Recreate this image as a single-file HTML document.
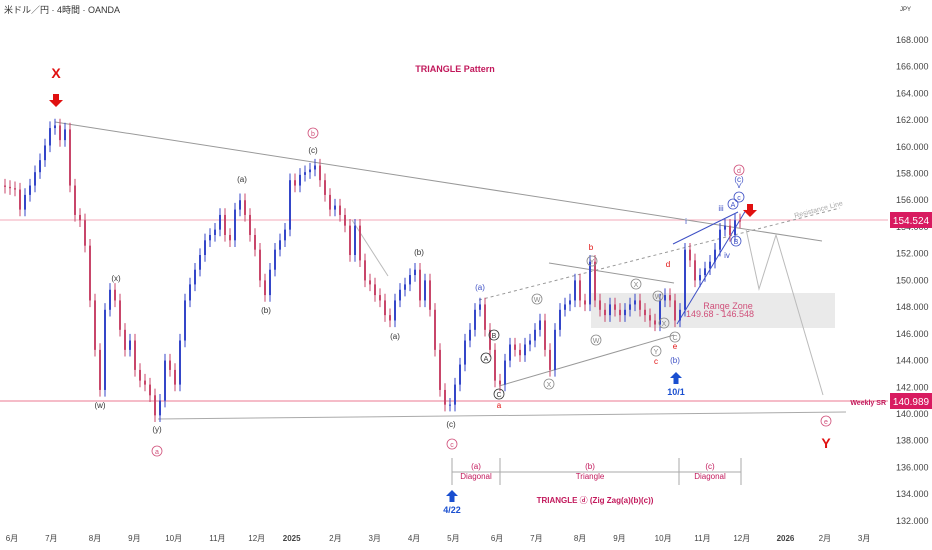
<!DOCTYPE html>
<html><head><meta charset="utf-8">
<style>
body{margin:0;background:#fff;font-family:"Liberation Sans","Noto Sans CJK JP",sans-serif;}
#wrap{position:relative;width:932px;height:550px;overflow:hidden;}
svg text{font-family:"Liberation Sans","Noto Sans CJK JP",sans-serif;}
</style></head>
<body>
<div id="wrap">
<svg id="chart" width="932" height="550" xmlns="http://www.w3.org/2000/svg">
<text x="4" y="13" font-size="9" fill="#333">米ドル／円 · 4時間 · OANDA</text>
<text x="900" y="11" font-size="6" fill="#333">JPY</text>
<rect x="591" y="293" width="244" height="35" fill="#dcdcdc" opacity="0.6"/>
<text x="728" y="309" font-size="9" fill="#d0507a" text-anchor="middle">Range Zone</text>
<text x="720" y="317" font-size="9" fill="#d0507a" text-anchor="middle">149.68 - 146.548</text>
<line x1="0" y1="220" x2="888" y2="220" stroke="#f3a8b8" stroke-width="1"/>
<line x1="0" y1="401" x2="888" y2="401" stroke="#f5bcc8" stroke-width="2"/>
<line x1="55" y1="122" x2="822" y2="241" stroke="#999" stroke-width="1"/>
<line x1="158" y1="419" x2="846" y2="412" stroke="#aaa" stroke-width="1"/>
<line x1="549" y1="263" x2="674" y2="283" stroke="#999"/>
<line x1="499" y1="386" x2="674" y2="335" stroke="#999"/>
<line x1="352" y1="220" x2="388" y2="276" stroke="#bbb"/>
<line x1="479" y1="300" x2="840" y2="208" stroke="#999" stroke-dasharray="3,3"/>
<text x="795" y="218" font-size="7" fill="#aaa" transform="rotate(-15 795 218)">Resistance Line</text>
<line x1="677" y1="324" x2="746" y2="210" stroke="#3f51c5"/>
<line x1="673" y1="244" x2="738" y2="212" stroke="#3f51c5"/>
<polyline points="746,229 759,289 776,235 823,395" fill="none" stroke="#bbb"/>
<g id="candles"></g>
<g id="ylabels"></g>
<g id="xlabels"></g>
<rect x="890" y="212" width="42" height="16" fill="#d81b60"/>
<text x="911" y="224" font-size="10" fill="#fff" text-anchor="middle">154.524</text>
<rect x="890" y="393" width="42" height="16" fill="#d81b60"/>
<text x="911" y="405" font-size="10" fill="#fff" text-anchor="middle">140.989</text>
<text x="886" y="405" font-size="7" font-weight="bold" fill="#c2185b" text-anchor="end">Weekly SR</text>
<text x="455" y="72" font-size="9" font-weight="bold" fill="#c2185b" text-anchor="middle">TRIANGLE  Pattern</text>
<text x="56" y="78" font-size="14" font-weight="bold" fill="#e01010" text-anchor="middle">X</text>
<path d="M53,94 h6 v6 h4 l-7,7 l-7,-7 h4z" fill="#e01010"/>
<path d="M747,204 h6 v6 h4 l-7,7 l-7,-7 h4z" fill="#e01010"/>
<text x="826" y="448" font-size="14" font-weight="bold" fill="#e01010" text-anchor="middle">Y</text>
<path d="M452,490 l6,6 h-3.5 v6 h-5 v-6 h-3.5z" fill="#1a4fd0"/>
<text x="452" y="513" font-size="9" font-weight="bold" fill="#1a4fd0" text-anchor="middle">4/22</text>
<path d="M676,372 l6,6 h-3.5 v6 h-5 v-6 h-3.5z" fill="#1a4fd0"/>
<text x="676" y="395" font-size="9" font-weight="bold" fill="#1a4fd0" text-anchor="middle">10/1</text>
<g stroke="#aaa">
<line x1="452" y1="458" x2="452" y2="485"/><line x1="500" y1="458" x2="500" y2="485"/>
<line x1="679" y1="458" x2="679" y2="485"/><line x1="741" y1="458" x2="741" y2="485"/>
<line x1="452" y1="472" x2="741" y2="472"/>
</g>
<g font-size="8" fill="#c2185b" text-anchor="middle">
<text x="476" y="469">(a)</text><text x="476" y="479">Diagonal</text>
<text x="590" y="469">(b)</text><text x="590" y="479">Triangle</text>
<text x="710" y="469">(c)</text><text x="710" y="479">Diagonal</text>
</g>
<text x="595" y="503" font-size="8" font-weight="bold" fill="#c2185b" text-anchor="middle">TRIANGLE ⓓ (Zig Zag(a)(b)(c))</text>
<g id="waves"></g>
</svg>
</div>
<script>
const closes=[157.1,157.0,156.9,156.8,155.3,156.4,157.1,158.1,159.0,160.1,161.4,161.6,160.5,161.3,157.1,154.9,154.5,152.6,148.5,144.8,141.8,147.8,149.3,148.5,146.3,144.8,145.5,143.3,142.5,142.2,141.4,139.9,141.0,144.0,143.3,142.2,145.5,148.5,149.7,150.8,151.9,153.0,153.4,153.8,154.9,153.4,153.0,155.3,156.0,154.9,153.4,152.3,150.0,148.9,150.8,152.3,153.0,153.8,157.5,157.1,157.9,158.1,158.3,158.6,157.5,156.4,155.3,155.6,154.9,154.1,151.9,154.1,151.5,150.0,149.7,148.9,148.5,147.4,147.0,148.5,149.3,149.7,150.4,150.8,148.5,150.0,147.8,144.8,141.8,140.7,140.7,142.2,143.7,145.5,146.3,147.8,148.2,146.3,144.8,142.5,142.2,144.0,145.2,144.8,144.4,145.2,145.5,146.3,147.0,144.8,143.3,146.3,147.8,148.2,148.5,150.0,148.5,148.2,151.4,148.5,147.8,147.4,148.2,147.8,147.4,147.8,148.2,148.5,147.8,147.4,147.0,146.7,148.5,148.9,148.5,147.0,147.8,152.3,151.5,150.0,150.4,150.9,151.4,152.3,153.8,154.1,153.4,154.5,154.4];
const yTicks=[132,134,136,138,140,142,144,146,148,150,152,154,156,158,160,162,164,166,168];
const monthLabels=["6月","7月","8月","9月","10月","11月","12月","2025","2月","3月","4月","5月","6月","7月","8月","9月","10月","11月","12月","2026","2月","3月"];
const monthIndex=[0.4,1.3,2.3,3.2,4.1,5.1,6.0,6.8,7.8,8.7,9.6,10.5,11.5,12.4,13.4,14.3,15.3,16.2,17.1,18.1,19.0,19.9];
const NS="http://www.w3.org/2000/svg";
function yS(p){return 414-(p-140)*13.36;}
function xS(i){return i*5;}
function xM(m){return 12+(m-0.4)*43.7;}
const cg=document.getElementById('candles');
for(let i=1;i<closes.length;i++){
  const o=closes[i-1],c=closes[i];
  const up=c>=o;const col=up?"#3446c8":"#c8466a";
  const x=xS(i);
  const hi=Math.max(o,c)+0.5,lo=Math.min(o,c)-0.5;
  const w=document.createElementNS(NS,'line');
  w.setAttribute('x1',x);w.setAttribute('x2',x);w.setAttribute('y1',yS(hi));w.setAttribute('y2',yS(lo));
  w.setAttribute('stroke',col);w.setAttribute('stroke-width','1');
  
  
  cg.appendChild(w);
  const r=document.createElementNS(NS,'rect');
  const t=yS(Math.max(o,c)),b=yS(Math.min(o,c));
  r.setAttribute('x',x-1);r.setAttribute('width',2);r.setAttribute('y',t);r.setAttribute('height',Math.max(1,b-t));
  r.setAttribute('fill',col);
  
  
  cg.appendChild(r);
}
const yg=document.getElementById('ylabels');
yTicks.forEach(v=>{
  const t=document.createElementNS(NS,'text');
  t.setAttribute('x',896);t.setAttribute('y',yS(v)+3);t.setAttribute('font-size','9');t.setAttribute('fill','#444');
  t.textContent=v.toFixed(3);
  
  
  yg.appendChild(t);
});
const xg=document.getElementById('xlabels');
monthLabels.forEach((m,i)=>{
  const t=document.createElementNS(NS,'text');
  t.setAttribute('x',xM(monthIndex[i]));t.setAttribute('y',541);t.setAttribute('font-size','8');
  t.setAttribute('fill','#444');t.setAttribute('text-anchor','middle');
  if(m.length===4)t.setAttribute('font-weight','bold');
  t.textContent=m;
  
  
  xg.appendChild(t);
});
const waveText=["(c)","(a)","(b)","(x)","(w)","(y)","(b)","(a)","(c)","a","b","c","d","e","i","iv","v"];
const waveX=[313,242,266,116,100,157,419,395,451,499,591,656,668,675,686,727,739];
const waveY=[153,182,313,281,408,432,255,339,427,408,250,364,267,349,224,258,188];
const waveCol=["#333","#333","#333","#333","#333","#333","#333","#333","#333","#e01010","#e01010","#e01010","#e01010","#e01010","#3f51c5","#3f51c5","#3f51c5"];
const wg=document.getElementById('waves');
waveText.forEach((s,i)=>{
  const t=document.createElementNS(NS,'text');
  t.setAttribute('x',waveX[i]);t.setAttribute('y',waveY[i]);t.setAttribute('font-size','8');
  t.setAttribute('fill',waveCol[i]);t.setAttribute('text-anchor','middle');
  t.textContent=s;
  
  
  wg.appendChild(t);
});
const circText=["b","a","c","e","d","A","B","C","W","X","Y","W","X","W","X","Y","C","B","A","c","(a)","(b)","(c)","iii"];
const circX=[313,157,452,826,739,486,494,499,537,549,592,596,636,658,664,656,675,736,733,739,480,675,739,721];
const circY=[133,451,444,421,170,358,335,394,299,384,261,340,284,296,323,351,337,241,204,197,287,360,179,208];
const circCol=["#d0507a","#d0507a","#d0507a","#d0507a","#d0507a","#333","#333","#333","#888","#888","#888","#888","#888","#888","#888","#888","#888","#3f51c5","#3f51c5","#3f51c5","#3f51c5","#3f51c5","#3f51c5","#3f51c5"];
circText.forEach((s,i)=>{
  const plain=s.length>1;
  if(!plain){
    const c=document.createElementNS(NS,'circle');
    c.setAttribute('cx',circX[i]);c.setAttribute('cy',circY[i]);c.setAttribute('r',5);
    c.setAttribute('fill','none');c.setAttribute('stroke',circCol[i]);c.setAttribute('stroke-width','0.8');
    
    
    wg.appendChild(c);
  }
  const t=document.createElementNS(NS,'text');
  t.setAttribute('x',circX[i]);t.setAttribute('y',circY[i]+3);t.setAttribute('font-size',plain?'8':'7');
  t.setAttribute('fill',circCol[i]);t.setAttribute('text-anchor','middle');
  t.textContent=s;
  
  
  wg.appendChild(t);
});
</script>
</body></html>
